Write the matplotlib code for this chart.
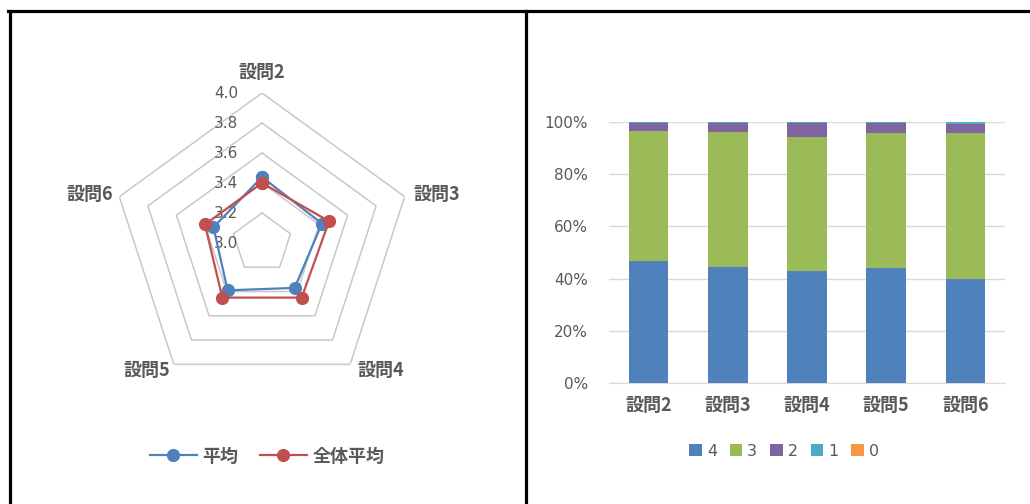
import numpy as np
import matplotlib
matplotlib.use("Agg")
from matplotlib import pyplot as plt
from matplotlib import transforms as mtrans
from matplotlib.lines import Line2D

plt.rcParams['font.family'] = ['Noto Sans CJK JP', 'DejaVu Sans']

questions = ["設問2", "設問3", "設問4", "設問5", "設問6"]

# radar values
avg = [3.44, 3.42, 3.37, 3.39, 3.34]
all_avg = [3.40, 3.47, 3.45, 3.45, 3.40]
rings = [3.2, 3.4, 3.6, 3.8, 4.0]
ring_labels = ["3.0", "3.2", "3.4", "3.6", "3.8", "4.0"]

# stacked share per answer (percent)
answers = ["4", "3", "2", "1", "0"]
share_4 = [46.8, 44.3, 43.0, 43.9, 39.7]
share_3 = [49.6, 52.0, 51.2, 52.0, 55.9]
share_2 = [3.4, 3.5, 5.3, 3.9, 3.8]
share_1 = [0.2, 0.2, 0.5, 0.2, 0.6]
share_0 = [0.0, 0.0, 0.0, 0.0, 0.0]

blue = "#4F81BD"
red = "#C0504D"
bar_colors = ["#4F81BD", "#9BBB59", "#8064A2", "#4BACC6", "#F79646"]
txt = "#595959"
num_font = ['DejaVu Sans', 'Noto Sans CJK JP']

W, H = 1030, 504
fig = plt.figure(figsize=(W / 100, H / 100), dpi=100)

# ---- radar chart ----
cx, cy, R = 262, 243, 150
ax1 = fig.add_axes([(cx - R) / W, (H - cy - R) / H, 2 * R / W, 2 * R / H], projection="polar")
ax1.set_theta_offset(np.pi / 2)
ax1.set_theta_direction(-1)
ax1.set_ylim(3.0, 4.0)
ax1.grid(False)
ax1.spines["polar"].set_visible(False)
ax1.set_xticks([])
ax1.set_yticks([])
ax1.patch.set_alpha(0)

angles = list(np.linspace(0, 2 * np.pi, len(questions), endpoint=False))
closed = angles + [angles[0]]
for r in rings:
    ax1.plot(closed, [r] * len(closed), color="#C8C8C8", lw=1.1, zorder=1)

ax1.plot(closed, avg + [avg[0]], color=blue, lw=1.6, marker="o", ms=8.5, zorder=3, clip_on=False)
ax1.plot(closed, all_avg + [all_avg[0]], color=red, lw=1.6, marker="o", ms=8.5, zorder=4, clip_on=False)

for i, lab in enumerate(ring_labels):
    r = 3.0 + 0.2 * i
    tr = mtrans.offset_copy(ax1.transData, fig=fig, x=-24, y=0, units="dots")
    ax1.text(0, r, lab, transform=tr, ha="right", va="center", fontsize=11,
             color=txt, zorder=2, clip_on=False, family=num_font)

label_pos = [(0, 21, "center"), (9, 2, "left"), (7, -6, "left"), (-4, -6, "right"), (-6, 2, "right")]
for a, q, (dx, dy, ha) in zip(angles, questions, label_pos):
    tr = mtrans.offset_copy(ax1.transData, fig=fig, x=dx, y=dy, units="dots")
    ax1.text(a, 4.0, q, transform=tr, ha=ha, va="center", fontsize=13,
             color=txt, clip_on=False, fontweight="bold")

h1 = [Line2D([], [], color=blue, lw=1.6, marker="o", ms=8.5),
      Line2D([], [], color=red, lw=1.6, marker="o", ms=8.5)]
fig.legend(h1, ["平均", "全体平均"], loc="center", bbox_to_anchor=(267 / W, 1 - 456 / H),
           ncol=2, frameon=False, prop={"size": 13, "weight": "bold"}, labelcolor=txt,
           handlelength=2.6, handletextpad=0.3, columnspacing=1.2)

# ---- stacked bar chart ----
ax2 = fig.add_axes([609 / W, (H - 383) / H, 396 / W, 261 / H])
x = np.arange(len(questions))
bottom = np.zeros(len(questions))
for name, vals, col in zip(answers, [share_4, share_3, share_2, share_1, share_0], bar_colors):
    ax2.bar(x, vals, 0.5, bottom=bottom, color=col, label=name, zorder=3)
    bottom += np.array(vals)

ax2.set_xlim(-0.5, 4.5)
ax2.set_ylim(0, 100)
ax2.set_yticks([0, 20, 40, 60, 80, 100])
ax2.set_yticklabels([f"{v}%" for v in [0, 20, 40, 60, 80, 100]], family=num_font, fontsize=11)
ax2.set_xticks(x)
ax2.set_xticklabels(questions, fontweight="bold", fontsize=13)
ax2.grid(axis="y", color="#D9D9D9", lw=1, zorder=0)
for s in ["top", "right", "left"]:
    ax2.spines[s].set_visible(False)
ax2.spines["bottom"].set_color("#D9D9D9")
ax2.tick_params(length=0, colors=txt)
ax2.tick_params(axis="x", pad=9)
ax2.tick_params(axis="y", pad=15)

fig.legend(*ax2.get_legend_handles_labels(), loc="center", bbox_to_anchor=(784 / W, 1 - 451 / H),
           ncol=5, frameon=False, prop={"family": num_font, "size": 11.5}, labelcolor=txt,
           handlelength=0.8, handleheight=0.8, handletextpad=0.3, columnspacing=0.8)

# panel borders
lw = 2.3
fig.add_artist(Line2D([8 / W, 1], [1 - 10.5 / H] * 2, color="black", lw=lw))
fig.add_artist(Line2D([9.5 / W] * 2, [0, 1 - 10.5 / H], color="black", lw=lw))
fig.add_artist(Line2D([525.5 / W] * 2, [0, 1 - 10.5 / H], color="black", lw=lw))

plt.savefig("out.png", dpi=100)
